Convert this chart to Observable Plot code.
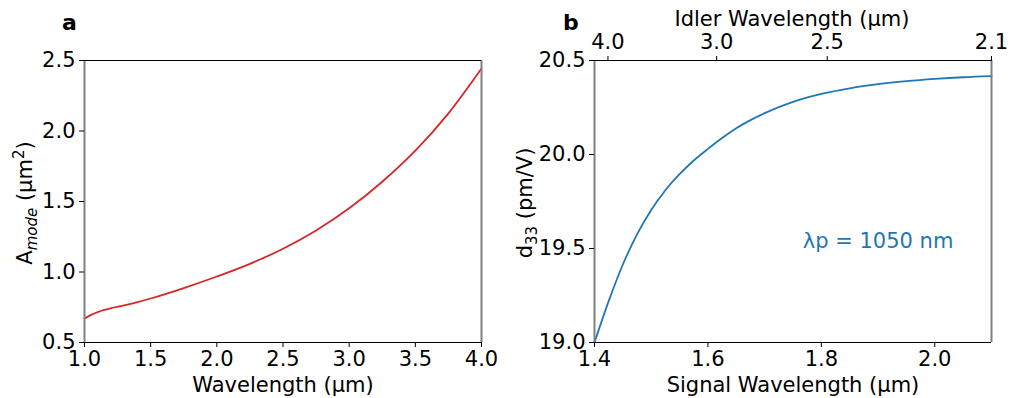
<!DOCTYPE html>
<html><head><meta charset="utf-8">
<script src="https://cdn.jsdelivr.net/npm/d3@7"></script>
<script src="https://cdn.jsdelivr.net/npm/@observablehq/plot@0.6"></script>
<style>
body{margin:0;background:#fff;font-family:"DejaVu Sans",sans-serif;}
#fig{position:relative;width:1011px;height:398px;overflow:hidden;}
.panel{position:absolute;top:0;}
</style></head><body><div id="fig"></div>
<script>
// Panel a: mode area vs wavelength
const wavelengthA = [1.0, 1.05, 1.1, 1.15, 1.2, 1.3, 1.4, 1.5, 1.75, 2.0, 2.25, 2.5, 2.75, 3.0, 3.25, 3.5, 3.75, 4.0];
const areaA       = [0.67, 0.696, 0.716, 0.731, 0.743, 0.763, 0.786, 0.812, 0.886, 0.968, 1.058, 1.165, 1.295, 1.452, 1.64, 1.86, 2.125, 2.443];
const xTicksA = [1.0, 1.5, 2.0, 2.5, 3.0, 3.5, 4.0];
const yTicksA = [0.5, 1.0, 1.5, 2.0, 2.5];

// Panel b: d33 vs signal wavelength
const signalB = [1.4, 1.425, 1.45, 1.475, 1.5, 1.525, 1.55, 1.575, 1.6, 1.625, 1.65, 1.675, 1.7, 1.75, 1.8, 1.85, 1.9, 1.95, 2.0, 2.05, 2.1];
const d33B    = [19.0, 19.22, 19.415, 19.575, 19.705, 19.81, 19.895, 19.968, 20.03, 20.088, 20.14, 20.183, 20.22, 20.28, 20.322, 20.352, 20.374, 20.39, 20.402, 20.411, 20.417];
const xTicksB = [1.4, 1.6, 1.8, 2.0];
const yTicksB = [19.0, 19.5, 20.0, 20.5];
const idlerTicks = [4.0, 3.0, 2.5, 2.1];
const idlerTickLabels = ["4.0", "3.0", "2.5", "2.1"];
const pumpWavelength = 1.05;
const annotation = ["λp = 1050 nm"];

const fmt1 = d3.format(".1f");
const FONT = "DejaVu Sans";
const FS = 21;
const baseStyle = {fontFamily: FONT, fontSize: FS + "px", color: "black", background: "white", overflow: "visible"};

function addText(svg, x, y, opts = {}) {
  const t = d3.select(svg).append("text")
    .attr("x", x).attr("y", y)
    .attr("font-family", FONT)
    .attr("font-size", opts.size || FS)
    .attr("font-weight", opts.weight || "normal")
    .attr("fill", "black")
    .attr("text-anchor", opts.anchor || "middle");
  if (opts.rotate) t.attr("transform", `rotate(-90 ${x} ${y})`);
  return t;
}

function spines(xd, yd) {
  return [
    Plot.ruleX(xd, {stroke: "#808080", strokeWidth: 2}),
    Plot.ruleY(yd, {stroke: "black", strokeWidth: 1})
  ];
}

const fig = document.getElementById("fig");

// ---------- Panel a ----------
const xDomA = [1.0, 4.0], yDomA = [0.5, 2.5];
const dataA = wavelengthA.map((x, i) => ({x, y: areaA[i]}));
const plotA = Plot.plot({
  width: 505, height: 398,
  marginLeft: 84, marginRight: 24, marginTop: 60, marginBottom: 56,
  style: baseStyle,
  x: {domain: xDomA},
  y: {domain: yDomA},
  marks: [
    Plot.line(dataA, {x: "x", y: "y", stroke: "#d62728", strokeWidth: 1.8, curve: "monotone-x"}),
    ...spines(xDomA, yDomA),
    Plot.axisX(xTicksA, {anchor: "bottom", tickSize: 5, tickPadding: 4, tickFormat: fmt1, label: null}),
    Plot.axisY(yTicksA, {anchor: "left", tickSize: 5, tickPadding: 4, tickFormat: fmt1, label: null})
  ]
});
plotA.classList.add("panel");
plotA.style.left = "0px";
fig.appendChild(plotA);
addText(plotA, 283, 392).text("Wavelength (µm)");
{
  const t = addText(plotA, 32, 203, {rotate: true});
  t.append("tspan").text("A");
  t.append("tspan").attr("font-style", "italic").attr("font-size", 15).attr("dy", 5).text("mode");
  t.append("tspan").attr("dy", -5).text(" (µm");
  t.append("tspan").attr("font-size", 15).attr("dy", -8).text("2");
  t.append("tspan").attr("dy", 8).text(")");
}
addText(plotA, 62, 30, {anchor: "start", weight: "bold", size: 22}).text("a");

// ---------- Panel b ----------
const xDomB = [1.4, 2.1], yDomB = [19.0, 20.5];
const dataB = signalB.map((x, i) => ({x, y: d33B[i]}));
const idlerPos = idlerTicks.map(l => 1 / (1 / pumpWavelength - 1 / l));
const idlerLabel = d => idlerTickLabels[idlerPos.indexOf(d)];
const plotB = Plot.plot({
  width: 506, height: 398,
  marginLeft: 89, marginRight: 20, marginTop: 60, marginBottom: 56,
  style: baseStyle,
  x: {domain: xDomB},
  y: {domain: yDomB},
  marks: [
    Plot.line(dataB, {x: "x", y: "y", stroke: "#1f77b4", strokeWidth: 1.8, curve: "monotone-x"}),
    Plot.text(annotation, {x: 1.9, y: 19.54, text: d => d, fill: "#1f77b4", fontSize: FS, textAnchor: "middle"}),
    ...spines(xDomB, yDomB),
    Plot.axisX(xTicksB, {anchor: "bottom", tickSize: 5, tickPadding: 4, tickFormat: fmt1, label: null}),
    Plot.axisX(idlerPos, {anchor: "top", tickSize: 5, tickPadding: 7, tickFormat: idlerLabel, label: null}),
    Plot.axisY(yTicksB, {anchor: "left", tickSize: 5, tickPadding: 4, tickFormat: fmt1, label: null})
  ]
});
plotB.classList.add("panel");
plotB.style.left = "505px";
fig.appendChild(plotB);
addText(plotB, 288, 392).text("Signal Wavelength (µm)");
addText(plotB, 287, 26).text("Idler Wavelength (µm)");
{
  const t = addText(plotB, 27, 203, {rotate: true});
  t.append("tspan").text("d");
  t.append("tspan").attr("font-size", 15).attr("dy", 5).text("33");
  t.append("tspan").attr("dy", -5).text(" (pm/V)");
}
addText(plotB, 58, 30, {anchor: "start", weight: "bold", size: 22}).text("b");
</script>
</body></html>
